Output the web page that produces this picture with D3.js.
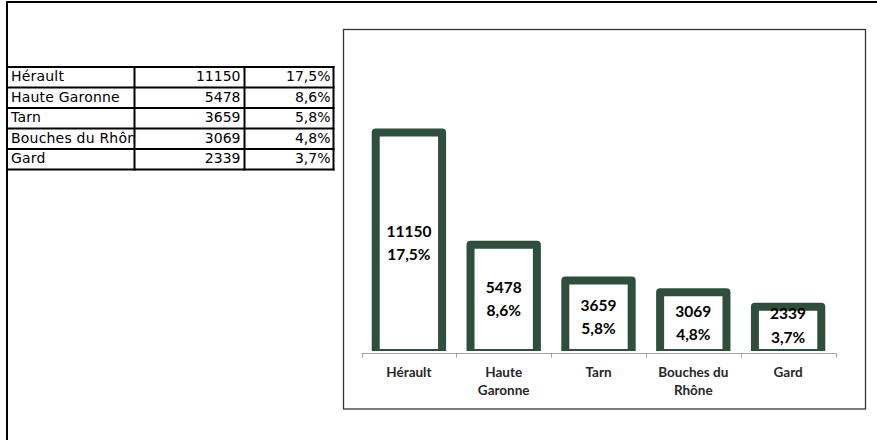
<!DOCTYPE html>
<html>
<head>
<meta charset="utf-8">
<script src="https://cdn.jsdelivr.net/npm/d3@7"></script>
<style>
  html, body { margin: 0; padding: 0; background: #fff; }
  svg { display: block; }
</style>
</head>
<body>
<svg id="chart" width="877" height="440"></svg>
<script>
// ---- Data ----
const categories = ["Hérault", "Haute Garonne", "Tarn", "Bouches du Rhône", "Gard"];
const categoryLines = [["Hérault"], ["Haute", "Garonne"], ["Tarn"], ["Bouches du", "Rhône"], ["Gard"]];
const counts = [11150, 5478, 3659, 3069, 2339];
const shares = [17.5, 8.6, 5.8, 4.8, 3.7];

const frLocale = d3.formatLocale({decimal: ",", thousands: " ", grouping: [3], currency: ["", " €"]});
const fmtShare = v => frLocale.format(".1f")(v) + "%";
const fmtCount = d3.format("d");

const svg = d3.select("#chart");
const green = "#2f4e3b";

// ---- Page frame (left + top border) ----
svg.append("line").attr("x1", 6).attr("x2", 877).attr("y1", 2).attr("y2", 2)
  .attr("stroke", "#000").attr("stroke-width", 2);
svg.append("line").attr("x1", 7).attr("x2", 7).attr("y1", 1).attr("y2", 440)
  .attr("stroke", "#000").attr("stroke-width", 2);

// ---- Table ----
const rowTop = 67, rowH = 20.5;
const colX = [7, 134.5, 244.5, 333.5];
const tbl = svg.append("g");
const defs = svg.append("defs");
defs.append("clipPath").attr("id", "col1clip").append("rect")
  .attr("x", colX[0]).attr("y", rowTop).attr("width", colX[1] - colX[0] - 1).attr("height", rowH * categories.length);

categories.forEach((c, i) => {
  const yT = rowTop + i * rowH;
  const base = yT + 14;
  tbl.append("text").attr("x", 11).attr("y", base)
    .attr("clip-path", "url(#col1clip)")
    .attr("font-family", "DejaVu Sans").attr("font-size", 14).attr("letter-spacing", 0.2).attr("fill", "#000")
    .text(c);
  tbl.append("text").attr("x", colX[2] - 4).attr("y", base).attr("text-anchor", "end")
    .attr("font-family", "DejaVu Sans").attr("font-size", 14).attr("fill", "#000")
    .text(fmtCount(counts[i]));
  tbl.append("text").attr("x", colX[3] - 3).attr("y", base).attr("text-anchor", "end")
    .attr("font-family", "DejaVu Sans").attr("font-size", 14).attr("fill", "#000")
    .text(fmtShare(shares[i]));
});
// grid lines
for (let i = 0; i <= categories.length; i++) {
  const yy = rowTop + i * rowH;
  tbl.append("line").attr("x1", colX[0]).attr("x2", colX[3] + 1).attr("y1", yy).attr("y2", yy)
    .attr("stroke", "#000").attr("stroke-width", 2);
}
colX.forEach(x => {
  tbl.append("line").attr("x1", x).attr("x2", x).attr("y1", rowTop - 1).attr("y2", rowTop + rowH * categories.length + 1)
    .attr("stroke", "#000").attr("stroke-width", 2);
});

// ---- Chart frame ----
svg.append("rect").attr("x", 343.5).attr("y", 29.5).attr("width", 522).attr("height", 379.5)
  .attr("fill", "#fff").attr("stroke", "#333").attr("stroke-width", 1.3);

// ---- Scales ----
const x = d3.scaleBand().domain(categories).range([361.5, 835.5]).paddingInner(0.3).paddingOuter(0.15);
const y = d3.scaleLinear().domain([0, 12000]).range([353, 353 - 237.4]);
const y0 = y(0);

defs.append("clipPath").attr("id", "plotclip").append("rect")
  .attr("x", 343).attr("y", 29).attr("width", 523).attr("height", y0 - 2 - 29);

// ---- Bars ----
svg.append("g").attr("clip-path", "url(#plotclip)")
  .selectAll("rect").data(categories).join("rect")
  .attr("x", d => x(d))
  .attr("width", x.bandwidth())
  .attr("y", (d, i) => y(counts[i]))
  .attr("height", (d, i) => y0 - y(counts[i]))
  .attr("fill", "#fff")
  .attr("stroke", green)
  .attr("stroke-width", 8)
  .attr("stroke-linejoin", "round");

// ---- Axis ----
const ax = svg.append("g");
const [r0, r1] = x.range();
ax.append("line").attr("x1", r0).attr("x2", r1).attr("y1", y0 + 0.5).attr("y2", y0 + 0.5)
  .attr("stroke", "#a0a0a0").attr("stroke-width", 1);
d3.range(categories.length + 1).forEach(i => {
  const tx = Math.round(r0 + i * x.step()) + 0.5;
  ax.append("line").attr("x1", tx).attr("x2", tx).attr("y1", y0).attr("y2", y0 + 4.5)
    .attr("stroke", "#a0a0a0").attr("stroke-width", 1);
});
categories.forEach((c, i) => {
  const t = ax.append("text").attr("text-anchor", "middle")
    .attr("font-family", "Lato").attr("font-weight", "bold").attr("font-size", 13.5)
    .attr("fill", "#262626");
  categoryLines[i].forEach((ln, j) => {
    t.append("tspan").attr("x", x(c) + x.bandwidth() / 2).attr("y", 377 + j * 18).text(ln);
  });
});

// ---- Value labels ----
const lbl = svg.append("g");
categories.forEach((c, i) => {
  const mid = Math.min((y(counts[i]) + y0) / 2, 325);
  const cx = x(c) + x.bandwidth() / 2;
  const t = lbl.append("text").attr("text-anchor", "middle")
    .attr("font-family", "Lato").attr("font-weight", "bold").attr("font-size", 15.5)
    .attr("fill", "#000");
  t.append("tspan").attr("x", cx).attr("y", mid - 6).text(fmtCount(counts[i]));
  t.append("tspan").attr("x", cx).attr("y", mid + 17.5).text(fmtShare(shares[i]));
});
</script>
</body>
</html>
